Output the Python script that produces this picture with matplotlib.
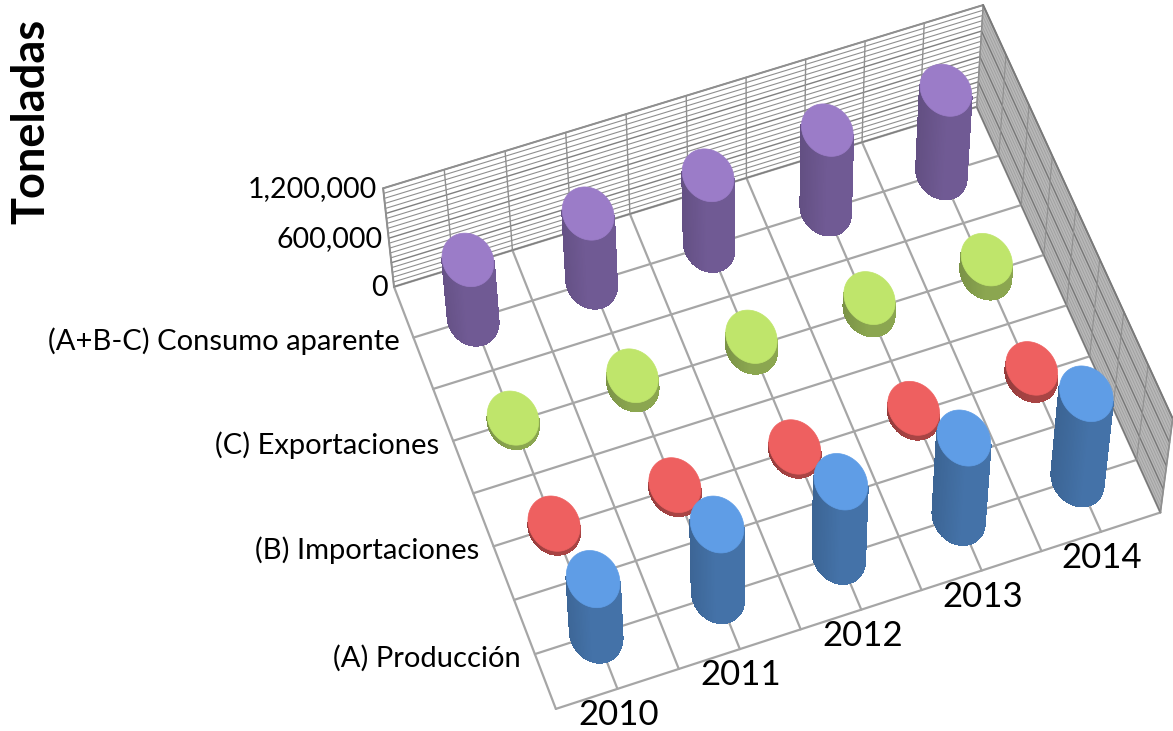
#!/usr/bin/env python3
"""3D cylinder chart: production, imports, exports and apparent consumption by year."""
import numpy as np
import matplotlib
matplotlib.use("Agg")
import matplotlib.pyplot as plt
from matplotlib.collections import PolyCollection
from matplotlib.colors import to_rgb

plt.rcParams["font.family"] = ["Lato", "DejaVu Sans"]

YEARS = ["2010", "2011", "2012", "2013", "2014"]
SERIES = ["(A) Producción", "(B) Importaciones", "(C) Exportaciones", "(A+B-C) Consumo aparente"]
Y_TICKS = [0, 600000, 1200000]
Y_LABEL = "Toneladas"

PRODUCCION = [735000, 925000, 965000, 1020000, 1085000]
IMPORTACIONES = [45000, 45000, 45000, 55000, 85000]
EXPORTACIONES = [50000, 110000, 130000, 150000, 170000]
CONSUMO = [735000, 845000, 860000, 960000, 1000000]
VALUES = [PRODUCCION, IMPORTACIONES, EXPORTACIONES, CONSUMO]

TOPS = ["#5f9de6", "#ee6060", "#bfe56b", "#9b7cc8"]
SIDES = ["#4472a8", "#a84444", "#8ba650", "#705a94"]
GRID = "#a6a6a6"
WALL = "#8f8f8f"
ZMAX = 1200000
Z_STEP = 60000
Z_MAJOR = 300000

# camera calibration: (year, series, height fraction) -> pixel, from the frame corners
CALIB = [
    ((0, 0, 0), (556, 709)), ((0, 4, 0), (394, 286)), ((5, 4, 0), (977, 107)),
    ((5, 0, 0), (1160, 513)), ((0, 4, 1), (383, 189)), ((5, 4, 1), (983, 5)),
    ((5, 0, 1), (1173, 418)),
]


def fit_camera():
    rows = []
    for (x, y, z), (px, py) in CALIB:
        rows.append([x, y, z, 1, 0, 0, 0, 0, -px * x, -px * y, -px * z, -px])
        rows.append([0, 0, 0, 0, x, y, z, 1, -py * x, -py * y, -py * z, -py])
    return np.linalg.svd(np.array(rows, float))[2][-1].reshape(3, 4)


CAMERA = fit_camera()


def project(x, y, z=0.0):
    x, y, z = np.broadcast_arrays(np.asarray(x, float), np.asarray(y, float), np.asarray(z, float))
    h = CAMERA @ np.stack([x, y, z, np.ones_like(x)])
    return h[0] / h[2], h[1] / h[2]


def line3d(ax, a, b, color=GRID, lw=1.6):
    px, py = project([a[0], b[0]], [a[1], b[1]], [a[2], b[2]])
    ax.plot(px, py, color=color, lw=lw, solid_capstyle="round", zorder=1)


def shade(color, f):
    return tuple(min(1, c * f) for c in to_rgb(color))


def quad_area(q):
    xs, ys = zip(*q)
    return 0.5 * sum(xs[i] * ys[(i + 1) % 4] - xs[(i + 1) % 4] * ys[i] for i in range(4))


def cylinder(ax, cx, cy, value, top, side, zorder):
    t = np.linspace(0, 2 * np.pi, 121)
    x = cx + 0.197 * np.cos(t)
    y = cy + 0.25 * np.sin(t)
    z = value / ZMAX
    bx, by = project(x, y, 0)
    tx, ty = project(x, y, z)
    x0, x1 = min(bx.min(), tx.min()), max(bx.max(), tx.max())
    quads = [[(bx[i], by[i]), (bx[i + 1], by[i + 1]), (tx[i + 1], ty[i + 1]), (tx[i], ty[i])]
             for i in range(len(t) - 1)]
    # only the strips turned to the camera; the lowest base point is surely one of them
    front = np.sign(quad_area(quads[min(int(np.argmax(by)), len(quads) - 1)]))
    keep, colors = [], []
    for q in quads:
        if np.sign(quad_area(q)) != front:
            continue
        f = (0.5 * (q[0][0] + q[1][0]) - x0) / (x1 - x0)
        keep.append(q)
        colors.append(shade(side, 0.88 + 0.12 * min(f * 2, 1)))
    # silhouette first so the unsmoothed strips do not leave a jagged outline
    ax.fill(bx, by, color=colors[len(colors) // 2], lw=0.6, zorder=zorder)
    ax.add_collection(PolyCollection(keep, facecolors=colors, edgecolors=colors,
                                     linewidths=0.8, antialiaseds=False, zorder=zorder))
    ax.fill(tx, ty, color=top, lw=0.5, zorder=zorder + 0.5)


fig = plt.figure(figsize=(11.73, 7.31), dpi=100)
ax = fig.add_axes([0, 0, 1, 1])
ax.set_xlim(0, 1173)
ax.set_ylim(731, 0)
ax.axis("off")

# floor, every half category
for i in np.arange(0, 5.01, 0.5):
    line3d(ax, (i, 0, 0), (i, 4, 0))
for j in np.arange(0, 4.01, 0.5):
    line3d(ax, (0, j, 0), (5, j, 0))

# the side wall is seen so flat that its lines merge into a grey tone
wx, wy = project([5, 5, 5, 5], [4, 0, 0, 4], [0, 0, 1, 1])
ax.fill(wx, wy, color="#b8b8b8", lw=0, zorder=0.5)

# back and side wall
for k in range(0, ZMAX + 1, Z_STEP):
    z = k / ZMAX
    major = k % Z_MAJOR == 0
    line3d(ax, (0, 4, z), (5, 4, z), "#7f7f7f" if major else WALL, 1.0 if major else 0.8)
    line3d(ax, (5, 4, z), (5, 0, z), "#777777" if major else "#a0a0a0", 1.0 if major else 0.6)
for i in np.arange(0, 5.01, 0.5):
    line3d(ax, (i, 4, 0), (i, 4, 1), WALL, 1.0)
for j in np.arange(0, 4.01, 0.5):
    line3d(ax, (5, j, 0), (5, j, 1), WALL, 0.8)
line3d(ax, (0, 4, 1), (5, 4, 1), WALL, 1.4)
line3d(ax, (5, 4, 1), (5, 0, 1), "#7a7a7a", 1.4)
line3d(ax, (0, 4, 0), (0, 4, 1), WALL, 1.4)
line3d(ax, (5, 0, 0), (5, 0, 1), WALL, 1.2)

# cylinders, back row first
for s in range(len(SERIES) - 1, -1, -1):
    for i in range(len(YEARS)):
        cylinder(ax, i + 0.5, s + 0.5, VALUES[s][i], TOPS[s], SIDES[s], 3 + (3 - s) * 2)

for i, year in enumerate(YEARS):
    px, py = project(i + 0.5, 0, 0)
    ax.text(px + 1, py + 26, year, fontsize=25, ha="center", va="center", color="black", zorder=20)
for s, name in enumerate(SERIES):
    px, py = project(0, s + 0.5, 0)
    ax.text(px - 14, py + 4, name, fontsize=21, ha="right", va="center", color="black", zorder=20)
for tick in Y_TICKS:
    px, py = project(0, 4, tick / ZMAX)
    ax.text(px - 6, py + 1, f"{tick:,}", fontsize=20.5, ha="right", va="center", color="black", zorder=20)
ax.text(31, 121, Y_LABEL, fontsize=32.5, fontweight="bold", rotation=90, ha="center", va="center", zorder=20)

fig.savefig("out.png", dpi=100)
plt.close(fig)
